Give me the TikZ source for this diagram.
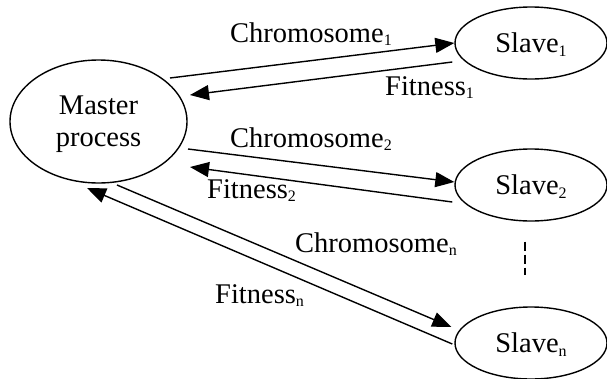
\documentclass[tikz,border=0pt]{standalone}
\usepackage{fontspec}
\setmainfont{Liberation Serif}
\usetikzlibrary{shapes.geometric,arrows.meta,calc}
\newcommand{\idx}[1]{\raisebox{-3.5pt}{\fontsize{16}{16}\selectfont #1}}

\begin{document}
\begin{tikzpicture}[x=1pt,y=-1pt,font=\fontsize{28.5}{32}\selectfont]
% Looks of the processes, the messages and their labels.
\tikzstyle{proc}=[draw,ellipse,line width=1.4pt,inner sep=0pt,text depth=0pt]
\tikzstyle{msg}=[line width=1.4pt,-{Triangle[length=19pt,width=15pt]}]
\tikzstyle{lbl}=[anchor=base west,inner sep=0pt]

\useasboundingbox (0,0) rectangle (607,378);

% This draws the master.
\node[proc,minimum width=177pt,minimum height=123pt,align=center] (master) at (98.5,121.5) {Master\\process};

% This draws the slaves.
\node[proc,minimum width=152pt,minimum height=72pt] (slave1) at (531,43) {Slave\idx{1}};
\node[proc,minimum width=152pt,minimum height=72pt] (slave2) at (531,185) {Slave\idx{2}};
\node[proc,minimum width=152pt,minimum height=72pt] (slaven) at (531,343) {Slave\idx{n}};

% Chromosomes out, fitness values back.
\draw[msg] ($(master.center)+(71.5,-43.5)$) -- (slave1.west);
\draw[msg] ($(slave1.west)+(-2,19)$) -- ($(master.center)+(91.5,-26.5)$);
\draw[msg] ($(master.center)+(89.5,27.5)$) -- ($(slave2.west)+(0,-3)$);
\draw[msg] ($(slave2.west)+(-2,17)$) -- ($(master.center)+(91.5,45.5)$);
\draw[msg] ($(master.center)+(18.5,63.5)$) -- ($(slaven.west)+(-3,-16)$);
\draw[msg] ($(slaven.west)+(-2,1)$) -- ($(master.center)+(-11.5,66.5)$);

% The labels.
\node[lbl] (chrom1) at (230,42) {Chromosome\idx{1}};
\node[lbl] (fit1) at (385,95) {Fitness\idx{1}};
\node[lbl] (chrom2) at (230,147) {Chromosome\idx{2}};
\node[lbl] (fit2) at (207,198) {Fitness\idx{2}};
\node[lbl] (chromn) at (295,252) {Chromosome\idx{n}};
\node[lbl] (fitn) at (215,303) {Fitness\idx{n}};

% This draws the dots between the slaves.
\draw[line width=1.4pt,dash pattern=on 9pt off 4pt] ($(slave2.south)+(-6,20)$) -- ($(slaven.north)+(-6,-31)$);
\end{tikzpicture}
\end{document}
